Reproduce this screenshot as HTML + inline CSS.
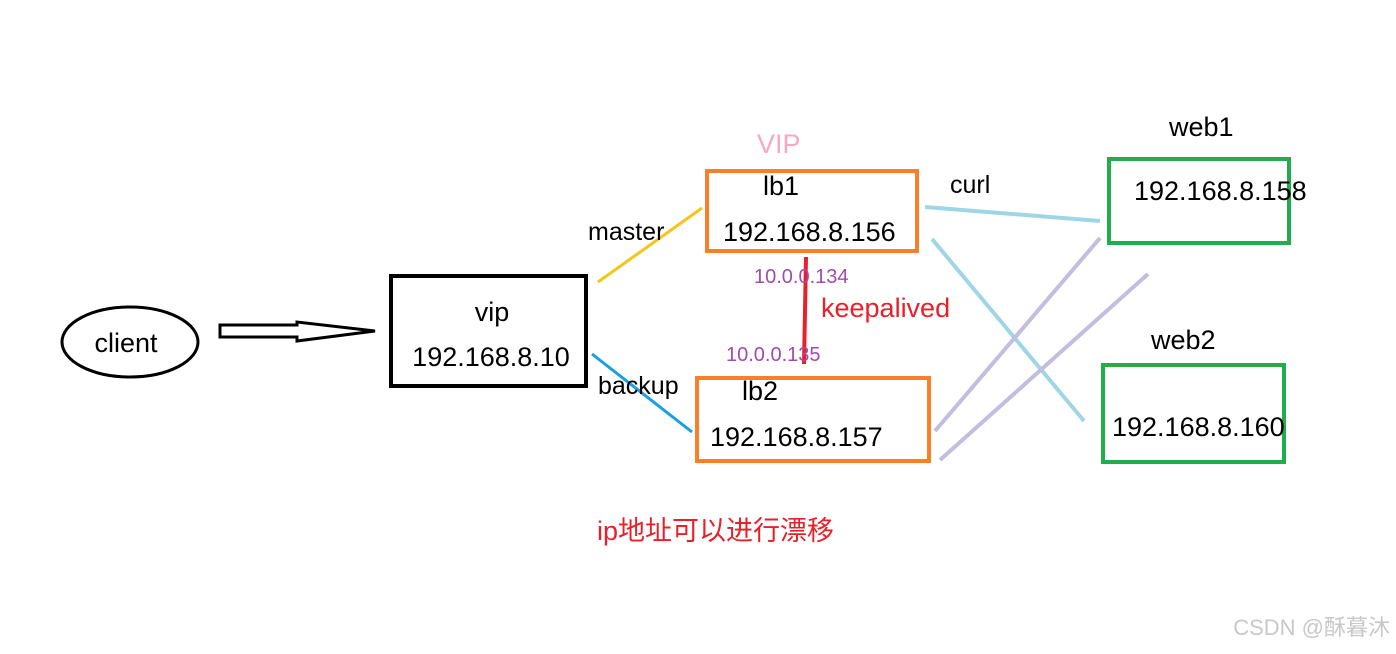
<!DOCTYPE html>
<html><head><meta charset="utf-8"><style>
html,body{margin:0;padding:0;background:#fff}
body{width:1396px;height:649px;overflow:hidden}
svg text{font-family:"Liberation Sans","Noto Sans CJK SC",sans-serif}
</style></head><body>
<svg width="1396" height="649" viewBox="0 0 1396 649" xmlns="http://www.w3.org/2000/svg">
<ellipse cx="130" cy="342" rx="68" ry="35" fill="none" stroke="#000" stroke-width="3"/>
<text x="126" y="352" font-size="27" text-anchor="middle">client</text>
<polygon points="220,325 297,325 297,322 375,331 297,341 297,337 220,337" fill="none" stroke="#000" stroke-width="3"/>
<rect x="391" y="276" width="195" height="110" fill="none" stroke="#000" stroke-width="4"/>
<text x="492" y="321" font-size="27" text-anchor="middle">vip</text>
<text x="491" y="366" font-size="27" text-anchor="middle">192.168.8.10</text>
<line x1="598" y1="282" x2="702" y2="208" stroke="#f5c518" stroke-width="3"/>
<text x="588" y="240" font-size="25">master</text>
<line x1="592" y1="354" x2="692" y2="432" stroke="#1aa0e0" stroke-width="3"/>
<text x="598" y="394" font-size="25">backup</text>
<text x="757" y="153" font-size="27" fill="#f7a8c4">VIP</text>
<rect x="707" y="171" width="210" height="80" fill="none" stroke="#fb7f29" stroke-width="4"/>
<text x="763" y="195" font-size="27">lb1</text>
<text x="723" y="241" font-size="27">192.168.8.156</text>
<rect x="697" y="378" width="232" height="83" fill="none" stroke="#fb7f29" stroke-width="4"/>
<text x="742" y="400" font-size="27">lb2</text>
<text x="710" y="446" font-size="27">192.168.8.157</text>
<line x1="806" y1="257" x2="804" y2="364" stroke="#e8202a" stroke-width="4"/>
<text x="754" y="283" font-size="20" fill="#a34ab0">10.0.0.134</text>
<text x="726" y="361" font-size="20" fill="#a34ab0">10.0.0.135</text>
<text x="821" y="317" font-size="27" fill="#e8202a">keepalived</text>
<text x="950" y="193" font-size="25">curl</text>
<line x1="925" y1="207" x2="1100" y2="221" stroke="#9fd6e6" stroke-width="4"/>
<line x1="932" y1="239" x2="1084" y2="421" stroke="#9fd6e6" stroke-width="4"/>
<line x1="935" y1="431" x2="1100" y2="238" stroke="#c3bde0" stroke-width="4"/>
<line x1="940" y1="460" x2="1148" y2="274" stroke="#c3bde0" stroke-width="4"/>
<text x="1169" y="136" font-size="27">web1</text>
<rect x="1109" y="159" width="180" height="84" fill="none" stroke="#21ad4b" stroke-width="4"/>
<text x="1134" y="200" font-size="27">192.168.8.158</text>
<text x="1151" y="349" font-size="27">web2</text>
<rect x="1103" y="365" width="181" height="97" fill="none" stroke="#21ad4b" stroke-width="4"/>
<text x="1112" y="436" font-size="27">192.168.8.160</text>
<text x="597" y="540" font-size="27" fill="#e8202a">ip地址可以进行漂移</text>
<text x="1390" y="635" font-size="22" fill="#c8c8c8" text-anchor="end">CSDN @酥暮沐</text>
</svg>
</body></html>
